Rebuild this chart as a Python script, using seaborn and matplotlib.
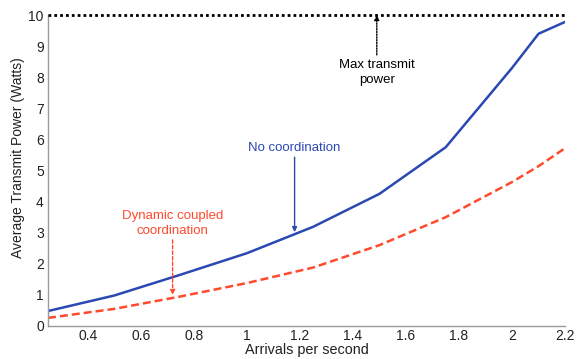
import matplotlib
matplotlib.use("Agg")
import matplotlib.pyplot as plt
import seaborn as sns
import pandas as pd

# Arrival rates (per second) and average transmit power (Watts)
arrivals_none = [0.25, 0.5, 0.75, 1.0, 1.25, 1.5, 1.75, 2.0, 2.1, 2.2]
power_none = [0.48, 0.98, 1.65, 2.34, 3.19, 4.25, 5.75, 8.3, 9.4, 9.78]

arrivals_coupled = [0.25, 0.5, 0.75, 1.0, 1.25, 1.5, 1.75, 2.0, 2.1, 2.2]
power_coupled = [0.26, 0.55, 0.95, 1.38, 1.88, 2.6, 3.5, 4.63, 5.14, 5.72]

max_power = 10.0
x_ticks = [0.4, 0.6, 0.8, 1.0, 1.2, 1.4, 1.6, 1.8, 2.0, 2.2]
x_tick_labels = ["0.4", "0.6", "0.8", "1", "1.2", "1.4", "1.6", "1.8", "2", "2.2"]
y_ticks = list(range(0, 11))

BLUE = "#2b48b3"
RED = "#ff4a2e"
GREY = "#9a9a9a"
TEXT = "#222222"

sns.set_theme(style="white")
plt.rcParams["font.family"] = ["Liberation Sans", "DejaVu Sans"]

df_none = pd.DataFrame({"arrivals": arrivals_none, "power": power_none})
df_coupled = pd.DataFrame({"arrivals": arrivals_coupled, "power": power_coupled})

fig = plt.figure(figsize=(5.88, 3.59), dpi=100)
ax = fig.add_axes([0.0816, 0.092, 0.8794, 0.866])

sns.lineplot(data=df_none, x="arrivals", y="power", ax=ax, color=BLUE,
             linewidth=1.8, estimator=None)
sns.lineplot(data=df_coupled, x="arrivals", y="power", ax=ax, color=RED,
             linewidth=1.8, estimator=None, linestyle=(0, (3.2, 1.6)))

# Upper bound on transmit power
ax.axhline(max_power, color="black", linewidth=2.0, linestyle=(0, (1, 1.1)),
           clip_on=False, zorder=5)

ax.set_xlim(0.25, 2.2)
ax.set_ylim(0, 10)
ax.set_xticks(x_ticks)
ax.set_xticklabels(x_tick_labels)
ax.set_yticks(y_ticks)
ax.set_xlabel("Arrivals per second", fontsize=10.4, color=TEXT, va="center")
ax.set_ylabel("Average Transmit Power (Watts)", fontsize=10, color=TEXT,
              va="center")
ax.xaxis.set_label_coords(0.5, -0.078)
ax.yaxis.set_label_coords(-0.058, 0.54)

for side in ["top", "right"]:
    ax.spines[side].set_visible(False)
for side in ["left", "bottom"]:
    ax.spines[side].set_color(GREY)
    ax.spines[side].set_linewidth(1.0)
ax.tick_params(axis="both", direction="in", length=4, width=0.8, color=GREY,
               labelsize=10, labelcolor=TEXT, pad=3)
ax.tick_params(axis="x", pad=2.5)


def callout(label, text_xy, tail, head, color, style, size):
    ax.text(text_xy[0], text_xy[1], label, ha="center", va="center",
            fontsize=size, color=color, linespacing=1.4)
    ax.annotate("", xy=head, xytext=tail,
                arrowprops=dict(arrowstyle="-|>", color=color, lw=1.0,
                                linestyle=style, mutation_scale=7,
                                shrinkA=0, shrinkB=0))


callout("Max transmit\npower", (1.49, 8.15), (1.49, 8.72), (1.49, max_power),
        "black", (0, (1, 1)), 9.5)
callout("No coordination", (1.18, 5.72), (1.18, 5.43), (1.18, 3.02),
        BLUE, "solid", 9.5)
callout("Dynamic coupled\ncoordination", (0.72, 3.3), (0.72, 2.77), (0.72, 1.0),
        RED, (0, (2.5, 1.5)), 9.5)

fig.savefig("out.png", dpi=100)
